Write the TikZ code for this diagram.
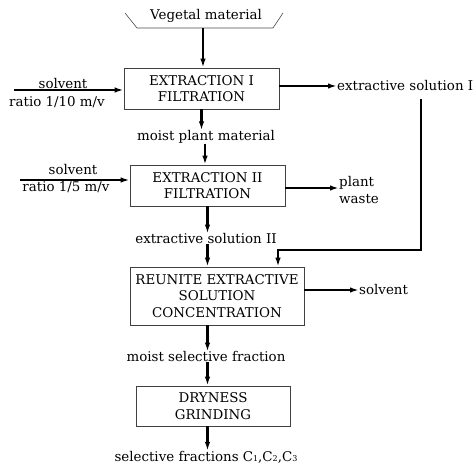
\documentclass[tikz,border=0pt]{standalone}
\usepackage{fontspec}
\setmainfont{DejaVu Serif}
\usetikzlibrary{arrows.meta, positioning, calc}

\tikzset{
  procbox/.style={draw=black!75, line width=0.7pt, align=center, inner sep=2pt},
  lbl/.style={inner sep=0pt, align=center},
  flow/.style={line width=2.6pt, -{Latex[length=9pt,width=5.5pt]}}
}
\newcommand{\lowsub}[1]{\raisebox{-0.8pt}{\fontsize{8}{8}\selectfont #1}}

\begin{document}
\begin{tikzpicture}[x=1pt, y=-1pt, font=\fontsize{13.4}{16.5}\selectfont]

        \useasboundingbox (0,0) rectangle (476,465);

        % Phễu nguyên liệu
        \node[lbl] (veg) at (206,16) {Vegetal material};
        \draw[black!70, line width=0.6pt] (125,13) -- (137,28) -- (273,28) -- (283,13);
        \coordinate (hop) at (203,28);

        % Các khối công đoạn
        \node[procbox, minimum width=155pt, minimum height=41pt] (ex1) at (201.5,88.5) {EXTRACTION I\\FILTRATION};
        \node[procbox, minimum width=155pt, minimum height=41pt] (ex2) at (207.5,185.5) {EXTRACTION II\\FILTRATION};
        \node[procbox, minimum width=174pt, minimum height=58pt] (reun) at (217,296) {REUNITE EXTRACTIVE\\SOLUTION\\CONCENTRATION};
        \node[procbox, minimum width=154pt, minimum height=40pt] (dry) at (213,406) {DRYNESS\\GRINDING};

        % Nhãn trung gian
        \node[lbl] (mpm) at (206,137) {moist plant material};
        \node[lbl] (es2) at (206,239) {extractive solution II};
        \node[lbl] (msf) at (206,357) {moist selective fraction};
        \node[lbl] (sfr) at (206,457) {selective fractions C\lowsub{1},C\lowsub{2},C\lowsub{3}};

        % Dung môi vào
        \node[lbl] (solvA) at (63,84) {solvent};
        \node[lbl] (ratioA) at (57,102) {ratio 1/10 m/v};
        \coordinate (inA) at (14,90);
        \node[lbl] (solvB) at (73,170) {solvent};
        \node[lbl] (ratioB) at (66,187) {ratio 1/5 m/v};
        \coordinate (inB) at (20,180);

        % Sản phẩm ra
        \node[lbl, anchor=west] (es1) at (337,86) {extractive solution I};
        \node[lbl, anchor=west, align=left] (waste) at (339,190) {plant\\waste};
        \node[lbl, anchor=west] (solvC) at (359,290) {solvent};

        % Mũi tên chính
        \draw[flow] (hop) -- (hop |- ex1.north);
        \draw[flow] (ex1.south) -- (ex1.south |- mpm.north);
        \draw[flow] (mpm.south -| 205,0) -- (ex2.north -| 205,0);
        \draw[flow] (ex2.south) -- (ex2.south |- es2.north);
        \draw[flow] (es2.south -| ex2.south) -- (reun.north -| ex2.south);
        \draw[flow] (reun.south -| ex2.south) -- (msf.north -| ex2.south);
        \draw[flow] (msf.south -| ex2.south) -- (dry.north -| ex2.south);
        \draw[flow] (dry.south -| ex2.south) -- (sfr.north -| ex2.south);

        % Mũi tên ngang
        \draw[flow] (inA) -- (inA -| ex1.west);
        \draw[flow] (inB) -- (inB -| ex2.west);
        \draw[flow] (ex1.east |- es1.west) -- (es1.west);
        \draw[flow] (ex2.east |- 0,188) -- (waste.west |- 0,188);
        \draw[flow] (reun.east |- solvC.west) -- (solvC.west);

        % Đường hồi lưu dung dịch I
        \coordinate (ret) at (421,99);
        \coordinate (ret2) at (278,250);
        \draw[flow] (ret) |- (ret2) -- (ret2 |- reun.north);

\end{tikzpicture}
\end{document}
